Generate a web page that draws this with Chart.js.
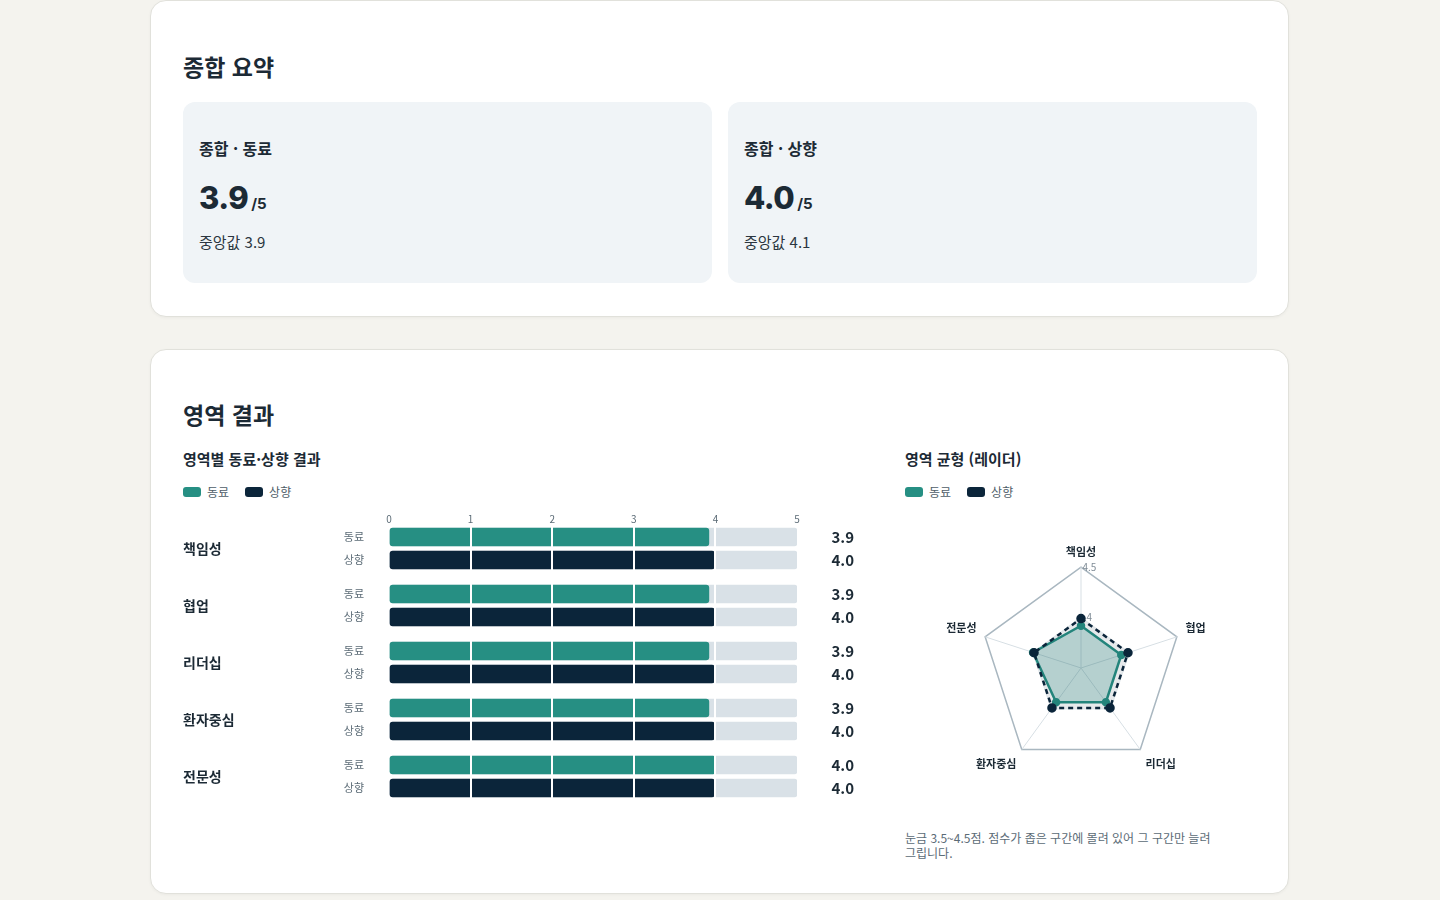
<!DOCTYPE html>
<html lang="ko">
<head>
<meta charset="utf-8">
<script src="https://cdn.jsdelivr.net/npm/chart.js@4/dist/chart.umd.min.js"></script>
<style>
  body { margin: 0; background: #f4f3ee; font-family: "Noto Sans CJK KR", "Noto Sans", sans-serif; color: #1c2a35; }
  .card { position: absolute; left: 150px; width: 1137px; background: #fff; border: 1px solid #e1e1db; border-radius: 16px; box-shadow: 0 1px 3px rgba(0,0,0,0.04); }
  .abs { position: absolute; white-space: nowrap; }
  h2 { margin: 0; font-size: 23px; font-weight: 700; line-height: 30px; }
  h3 { margin: 0; font-size: 15px; font-weight: 700; line-height: 20px; }
  .stat { position: absolute; top: 101px; width: 529px; height: 181px; background: #f0f4f7; border-radius: 12px; }
  .stat .lbl { position: absolute; left: 16px; top: 35px; font-size: 16px; font-weight: 700; line-height: 22px; }
  .stat .big { position: absolute; left: 16px; top: 76px; font-family: Inter, sans-serif; font-size: 31px; font-weight: 800; line-height: 40px; letter-spacing: -0.5px; }
  .stat .big small { font-size: 15px; font-weight: 700; letter-spacing: 0; margin-left: 3px; }
  .stat .med { position: absolute; left: 16px; top: 129px; font-size: 15px; line-height: 22px; color: #2b3640; }
  .legend { font-size: 12px; color: #4e5d68; line-height: 16px; display: flex; align-items: center; }
  .sw { width: 18px; height: 10px; border-radius: 3px; margin-right: 6px; }
  .note { font-size: 12px; color: #5b6b76; line-height: 15px; }
</style>
</head>
<body>
<div class="card" style="top:0; height:315px;">
  <h2 class="abs" style="left:32px; top:50px;">종합 요약</h2>
  <div class="stat" style="left:32px;">
    <div class="lbl" id="lblPeer"></div>
    <div class="big" id="bigPeer"></div>
    <div class="med" id="medPeer"></div>
  </div>
  <div class="stat" style="left:577px;">
    <div class="lbl" id="lblUp"></div>
    <div class="big" id="bigUp"></div>
    <div class="med" id="medUp"></div>
  </div>
</div>

<div class="card" style="top:349px; height:543px;">
  <h2 class="abs" style="left:32px; top:49px;">영역 결과</h2>
  <h3 class="abs" style="left:32px; top:99px;">영역별 동료·상향 결과</h3>
  <div class="abs legend" style="left:32px; top:134px;">
    <span class="sw" style="background:#268f83"></span><span style="margin-right:16px">동료</span><span class="sw" style="background:#0b253a"></span><span>상향</span>
  </div>
  <h3 class="abs" style="left:754px; top:99px;">영역 균형 (레이더)</h3>
  <div class="abs legend" style="left:754px; top:134px;">
    <span class="sw" style="background:#268f83"></span><span style="margin-right:16px">동료</span><span class="sw" style="background:#0b253a"></span><span>상향</span>
  </div>
  <div class="abs note" style="left:754px; top:480px;">눈금 3.5~4.5점. 점수가 좁은 구간에 몰려 있어 그 구간만 늘려<br>그립니다.</div>
</div>

<div id="bars" style="position:absolute; left:183px; top:500px; width:677px;"></div>
<div style="position:absolute; left:905px; top:538px; width:352px; height:246px;">
  <canvas id="radar"></canvas>
</div>

<script>
const domains = ["책임성", "협업", "리더십", "환자중심", "전문성"];
const seriesNames = ["동료", "상향"];
const peerScores = [3.92, 3.92, 3.92, 3.92, 4.0];
const upwardScores = [3.99, 3.99, 3.99, 3.99, 3.99];
const overallScores = [3.9, 4.0];
const overallMedians = [3.9, 4.1];
const barTicks = [0, 1, 2, 3, 4, 5];
const radarTicks = [3.5, 4, 4.5];

const TEAL = "#268f83";
const NAVY = "#0b253a";
const TRACK = "#d9e1e7";
const INK = "#1c2a35";
const MUTED = "#5b6b76";

Chart.defaults.font.family = "'Noto Sans CJK KR', 'Noto Sans', sans-serif";
Chart.defaults.animation = false;

// summary cards
document.getElementById("lblPeer").textContent = "종합 · " + seriesNames[0];
document.getElementById("lblUp").textContent = "종합 · " + seriesNames[1];
document.getElementById("bigPeer").innerHTML = overallScores[0].toFixed(1) + "<small>/5</small>";
document.getElementById("bigUp").innerHTML = overallScores[1].toFixed(1) + "<small>/5</small>";
document.getElementById("medPeer").textContent = "중앙값 " + overallMedians[0].toFixed(1);
document.getElementById("medUp").textContent = "중앙값 " + overallMedians[1].toFixed(1);

// group label, row labels and values around each bar pair
const rowText = {
  id: "rowText",
  afterDraw(chart, args, opts) {
    const { ctx, chartArea } = chart;
    const y = chart.scales.y;
    ctx.save();
    ctx.textBaseline = "middle";
    ctx.fillStyle = INK;
    ctx.font = "700 14px 'Noto Sans CJK KR'";
    ctx.textAlign = "left";
    ctx.fillText(opts.group, 0, (chartArea.top + chartArea.bottom) / 2);
    ctx.textAlign = "right";
    chart.data.labels.forEach((lab, i) => {
      ctx.fillStyle = MUTED;
      ctx.font = "400 11px 'Noto Sans CJK KR'";
      ctx.fillText(lab, chartArea.left - 25, y.getPixelForValue(i));
      ctx.fillStyle = INK;
      ctx.font = "700 15px 'Noto Sans CJK KR'";
      ctx.fillText(chart.data.datasets[0].data[i].toFixed(1), chartArea.right + 57, y.getPixelForValue(i));
    });
    ctx.restore();
  }
};

const barsBox = document.getElementById("bars");
domains.forEach((name, g) => {
  const first = g === 0;
  const wrap = document.createElement("div");
  wrap.style.position = "relative";
  wrap.style.height = (first ? 77 : 57) + "px";
  const cv = document.createElement("canvas");
  wrap.appendChild(cv);
  barsBox.appendChild(wrap);

  new Chart(cv, {
    type: "bar",
    data: {
      labels: seriesNames,
      datasets: [
        {
          data: [peerScores[g], upwardScores[g]],
          backgroundColor: [TEAL, NAVY],
          borderRadius: 3,
          borderSkipped: false,
          barThickness: 18,
          grouped: false,
          order: 1
        },
        {
          data: seriesNames.map(() => barTicks[barTicks.length - 1]),
          backgroundColor: TRACK,
          borderRadius: 3,
          borderSkipped: false,
          barThickness: 18,
          grouped: false,
          order: 2
        }
      ]
    },
    options: {
      indexAxis: "y",
      responsive: true,
      maintainAspectRatio: false,
      layout: { padding: { top: 5.5, bottom: 5.5, right: 63 } },
      plugins: { legend: { display: false }, tooltip: { enabled: false }, rowText: { group: name } },
      scales: {
        x: {
          position: "top",
          min: barTicks[0],
          max: barTicks[barTicks.length - 1],
          afterBuildTicks: (s) => { s.ticks = barTicks.map((v) => ({ value: v })); },
          afterFit: (s) => { s.height = first ? 20 : 0; },
          border: { display: false },
          grid: {
            z: 1,
            drawTicks: false,
            lineWidth: 2,
            color: (c) => (c.tick && (c.tick.value === barTicks[0] || c.tick.value === barTicks[barTicks.length - 1]) ? "rgba(0,0,0,0)" : "#ffffff")
          },
          ticks: { display: first, padding: 0, color: MUTED, font: { size: 10 } }
        },
        y: {
          afterFit: (s) => { s.width = 206; },
          border: { display: false },
          grid: { display: false, drawTicks: false },
          ticks: { display: false }
        }
      }
    },
    plugins: [rowText]
  });
});

// radar
new Chart(document.getElementById("radar"), {
  type: "radar",
  data: {
    labels: domains,
    datasets: [
      {
        label: seriesNames[1],
        data: upwardScores,
        borderColor: NAVY,
        backgroundColor: "rgba(11,37,58,0.10)",
        borderWidth: 2.5,
        borderDash: [5, 4],
        pointBackgroundColor: NAVY,
        pointBorderColor: NAVY,
        pointRadius: 3.5,
        fill: true,
        order: 0
      },
      {
        label: seriesNames[0],
        data: peerScores,
        borderColor: TEAL,
        backgroundColor: "rgba(38,143,131,0.25)",
        borderWidth: 2.5,
        pointBackgroundColor: TEAL,
        pointBorderColor: TEAL,
        pointRadius: 3,
        fill: true,
        order: 1
      }
    ]
  },
  options: {
    responsive: true,
    maintainAspectRatio: false,
    plugins: { legend: { display: false }, tooltip: { enabled: false } },
    scales: {
      r: {
        min: radarTicks[0],
        max: radarTicks[radarTicks.length - 1],
        ticks: {
          stepSize: radarTicks[1] - radarTicks[0],
          showLabelBackdrop: false,
          color: "#7f8c96",
          font: { size: 10 },
          // nudge the value labels to the right of the spoke
          callback: (v) => "\u2007\u2007\u2007" + v
        },
        grid: { color: (c) => (c.tick && c.tick.value === radarTicks[radarTicks.length - 1] ? "#a9b7c0" : "#dfe5e9"), lineWidth: 1.5 },
        angleLines: { color: "#d7dfe4" },
        pointLabels: { padding: 2, color: INK, font: { size: 11, weight: "700" } }
      }
    }
  }
});
</script>
</body>
</html>
